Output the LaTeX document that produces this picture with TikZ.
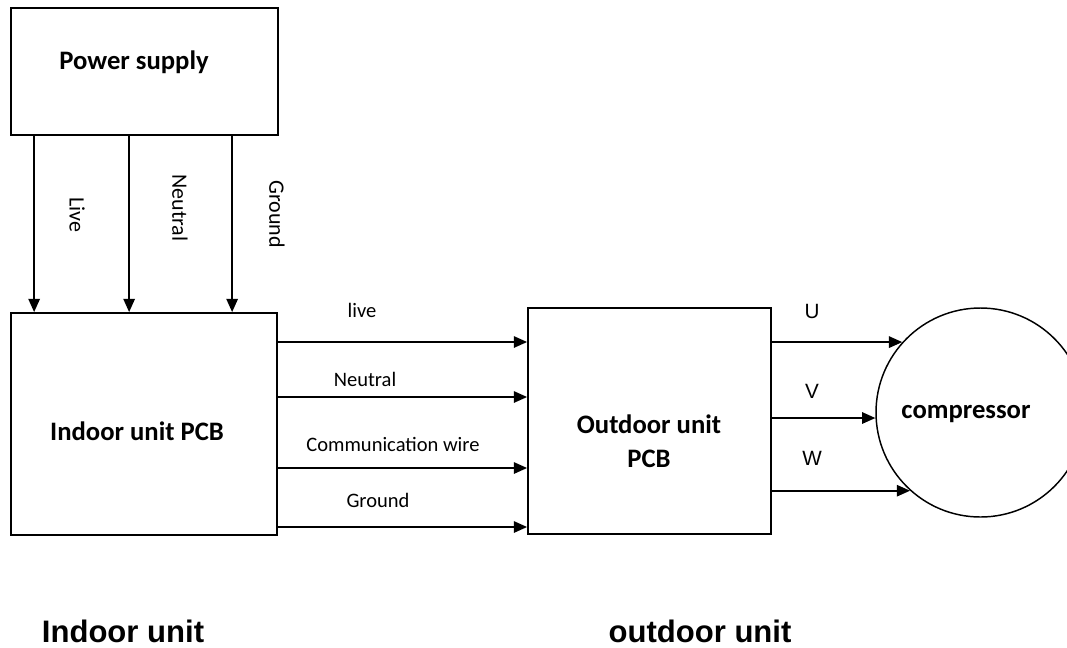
\documentclass[tikz,border=0pt]{standalone}
\usepackage{fontspec}
\setmainfont{Carlito}
\newfontfamily\arialf{Liberation Sans}
\usetikzlibrary{arrows.meta,fit,calc}
\begin{document}
\begin{tikzpicture}[x=0.75pt,y=-0.75pt,
 box/.style={draw, line width=1.3pt, inner sep=0pt},
 arr/.style={line width=1.5pt, -{Triangle[length=10pt,width=8.5pt]}},
 boldlab/.style={font=\fontsize{20}{24}\selectfont\bfseries, inner sep=0pt, anchor=base},
 wirelab/.style={font=\fontsize{15.4}{18}\selectfont, inner sep=0pt, anchor=base},
 vlab/.style={font=\fontsize{16.5}{20}\selectfont, inner sep=0pt, rotate=-90},
 phase/.style={font=\arialf\fontsize{15.5}{18}\selectfont, inner sep=0pt, anchor=base},
 unitlab/.style={font=\arialf\fontsize{23.3}{28}\selectfont\bfseries, inner sep=0pt, anchor=base}]
\clip (0,0) rectangle (1067,647);
\fill[white] (0,0) rectangle (1067,647);

% boxes
\node[box, fit={(11,8) (278,135)}] (ps) {};
\node[box, fit={(11,313) (277,535)}] (ind) {};
\node[box, fit={(528,308) (771,534)}] (out) {};
\node[draw, line width=1.1pt, circle, minimum size=156.75pt, inner sep=0pt] (comp) at (980.5,412.5) {};

% box texts
\node[boldlab] (pst) at (134,69) {Power supply};
\node[boldlab] (indt) at (137,440) {Indoor unit PCB};
\node[boldlab] (outt1) at (649,433) {Outdoor unit};
\node[boldlab] (outt2) at (649,467) {PCB};
\node[boldlab] (compt) at (966,418) {compressor};

% vertical wires
\draw[arr] ($(ps.south west)+(24,0)$) -- ($(ind.north west)+(24,0)$);
\draw[arr] ($(ps.south west)+(119,0)$) -- ($(ind.north west)+(119,0)$);
\draw[arr] ($(ps.south west)+(222,0)$) -- ($(ind.north west)+(222,0)$);
\node[vlab] (vl1) at (77,215) {Live};
\node[vlab] (vl2) at (180,208) {Neutral};
\node[vlab] (vl3) at (277,214) {Ground};

% indoor -> outdoor
\coordinate (h1) at (0,342);
\coordinate (h2) at (0,397);
\coordinate (h3) at (0,468);
\coordinate (h4) at (0,527);
\draw[arr] (ind.east |- h1) -- (out.west |- h1);
\draw[arr] (ind.east |- h2) -- (out.west |- h2);
\draw[arr] (ind.east |- h3) -- (out.west |- h3);
\draw[arr] (ind.east |- h4) -- (out.west |- h4);
\node[wirelab] (w1) at (362,317) {live};
\node[wirelab] (w2) at (365,386) {Neutral};
\node[wirelab] (w3) at (393,451) {Communication wire};
\node[wirelab] (w4) at (378,507) {Ground};

% outdoor -> compressor
\draw[arr] (out.east |- comp.138) -- (comp.138);
\draw[arr] (out.east |- comp.183) -- (comp.183);
\draw[arr] (out.east |- comp.228) -- (comp.228);
\node[phase] (pu) at (812,318) {U};
\node[phase] (pv) at (812,398) {V};
\node[phase] (pw) at (812,465) {W};

% unit labels
\node[unitlab] (iu) at (123,642) {Indoor unit};
\node[unitlab] (ou) at (700,642) {outdoor unit};
\end{tikzpicture}
\end{document}
